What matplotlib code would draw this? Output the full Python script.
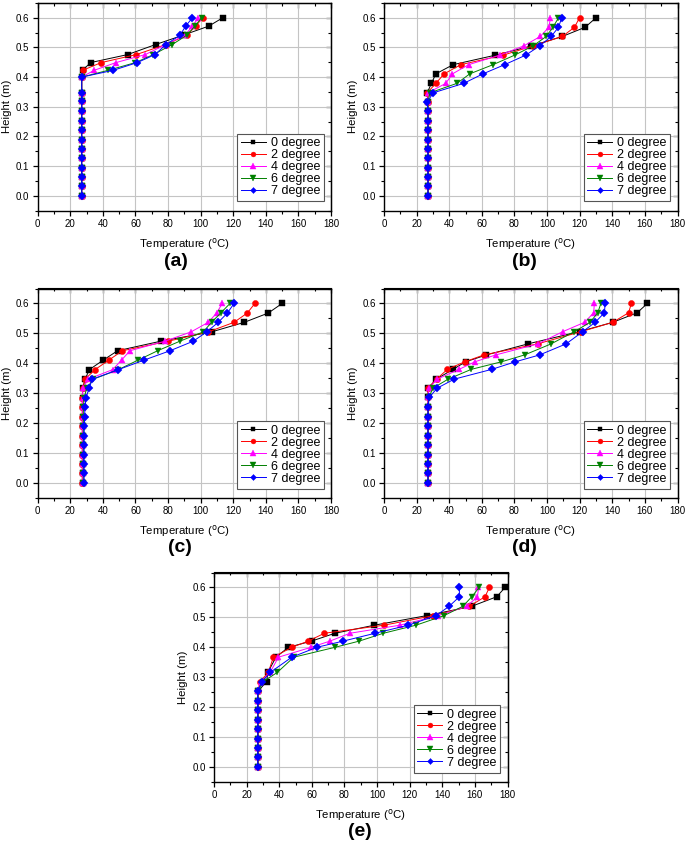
import matplotlib
matplotlib.use('Agg')
import matplotlib.pyplot as plt
from matplotlib.ticker import MultipleLocator, FormatStrFormatter

plt.rcParams['font.family'] = ['Liberation Sans', 'DejaVu Sans']

W, H = 685, 848
fig = plt.figure(figsize=(W / 100, H / 100), dpi=100)

series_labels = ['0 degree', '2 degree', '4 degree', '6 degree', '7 degree']
x_ticks = [0, 20, 40, 60, 80, 100, 120, 140, 160, 180]
y_ticks = [0.0, 0.1, 0.2, 0.3, 0.4, 0.5, 0.6]

# ---------------- panel (a) ----------------
h_a = [0.0, 0.032, 0.063, 0.095, 0.126, 0.158, 0.189, 0.221, 0.253, 0.284,
       0.318, 0.346, 0.400, 0.423, 0.449, 0.476, 0.510, 0.541, 0.572, 0.600]
a_0 = [27.0, 27.0, 27.1, 27.0, 26.9, 27.0, 27.0, 26.9, 27.0, 27.0,
       27.0, 27.0, 27.0, 27.5, 32.5, 55.2, 72.4, 89.0, 105.0, 113.5]
a_2 = [27.0, 27.0, 27.0, 27.0, 27.0, 27.0, 27.0, 27.0, 27.0, 27.0,
       27.0, 27.0, 27.0, 27.6, 39.0, 60.5, 78.7, 91.4, 97.0, 101.2]
a_4 = [27.0, 27.0, 27.0, 27.0, 27.0, 27.0, 27.0, 27.0, 27.0, 27.0,
       27.0, 27.0, 27.0, 34.7, 48.0, 66.0, 78.7, 90.4, 95.0, 98.5]
a_6 = [27.0, 27.0, 27.0, 27.0, 27.0, 27.0, 27.0, 27.0, 27.0, 27.0,
       27.0, 27.0, 27.0, 43.3, 60.0, 71.0, 82.6, 91.4, 96.5, 100.6]
a_7 = [27.0, 27.0, 27.0, 27.0, 27.0, 27.0, 27.0, 27.0, 27.0, 27.0,
       27.0, 27.0, 27.0, 46.4, 61.1, 72.0, 78.7, 87.3, 90.8, 94.9]

# ---------------- panel (b) ----------------
h_b = [0.0, 0.032, 0.063, 0.095, 0.126, 0.158, 0.189, 0.221, 0.253, 0.284,
       0.316, 0.347, 0.379, 0.411, 0.442, 0.474, 0.505, 0.537, 0.568, 0.600]
b_0 = [27.0, 27.0, 27.0, 27.0, 27.0, 27.0, 27.0, 27.0, 27.0, 27.0,
       27.0, 26.5, 29.1, 31.8, 42.4, 68.3, 90.3, 109.3, 123.3, 130.0]
b_2 = [27.0, 27.0, 27.0, 27.0, 27.0, 27.0, 27.0, 27.0, 27.0, 27.0,
       27.0, 26.5, 31.8, 36.9, 47.1, 73.0, 91.3, 109.3, 116.8, 119.9]
b_4 = [27.0, 27.0, 27.0, 27.0, 27.0, 27.0, 27.0, 27.0, 27.0, 27.0,
       27.0, 27.0, 37.9, 42.0, 51.9, 70.9, 85.6, 95.8, 101.1, 102.1]
b_6 = [27.0, 27.0, 27.0, 27.0, 27.0, 27.0, 27.0, 27.0, 27.0, 27.0,
       27.0, 28.1, 44.8, 52.6, 66.9, 80.1, 91.3, 99.5, 103.6, 107.0]
b_7 = [27.0, 27.0, 27.0, 27.0, 27.0, 27.0, 27.0, 27.0, 27.0, 27.0,
       26.5, 30.2, 48.9, 60.7, 74.0, 86.9, 95.4, 102.5, 107.0, 109.0]

# ---------------- panel (c) ----------------
h_c = [0.0, 0.032, 0.063, 0.095, 0.126, 0.158, 0.189, 0.221, 0.253, 0.284,
       0.316, 0.347, 0.379, 0.411, 0.442, 0.474, 0.505, 0.537, 0.568, 0.600]
c_0 = [27.5, 27.5, 27.5, 27.5, 27.5, 27.5, 27.5, 27.5, 27.5, 27.5,
       27.6, 29.1, 31.7, 40.3, 49.0, 75.6, 106.7, 126.8, 141.5, 150.0]
c_2 = [27.3, 27.3, 27.3, 27.3, 27.3, 27.3, 27.3, 27.3, 27.3, 27.3,
       27.6, 29.0, 35.2, 43.7, 52.0, 80.2, 104.7, 120.5, 128.6, 133.3]
c_4 = [27.5, 27.5, 27.5, 27.5, 27.5, 27.5, 27.5, 27.5, 27.5, 27.5,
       27.6, 31.0, 46.0, 51.5, 56.6, 78.1, 94.1, 104.7, 109.8, 113.3]
c_6 = [28.0, 28.0, 28.0, 28.0, 28.0, 28.0, 28.0, 28.0, 28.0, 28.5,
       30.0, 34.1, 49.5, 61.7, 73.6, 87.3, 101.6, 106.7, 112.3, 118.0]
c_7 = [28.5, 28.5, 28.5, 28.5, 28.5, 28.5, 28.6, 28.8, 29.0, 29.6,
       31.5, 33.5, 49.5, 65.4, 81.2, 95.5, 103.7, 110.8, 116.4, 120.5]

# ---------------- panel (d) ----------------
h_d = [0.0, 0.032, 0.063, 0.095, 0.126, 0.158, 0.189, 0.221, 0.253, 0.286,
       0.317, 0.347, 0.380, 0.405, 0.428, 0.465, 0.506, 0.537, 0.569, 0.600]
d_0 = [27.0, 27.0, 27.0, 27.0, 27.0, 27.0, 27.0, 27.0, 27.0, 27.0,
       27.1, 32.0, 42.4, 50.0, 62.8, 88.3, 119.9, 140.3, 155.3, 161.5]
d_2 = [27.0, 27.0, 27.0, 27.0, 27.0, 27.0, 27.0, 27.0, 27.0, 27.0,
       27.1, 32.2, 38.9, 49.5, 61.2, 94.2, 121.0, 140.3, 150.0, 151.7]
d_4 = [27.0, 27.0, 27.0, 27.0, 27.0, 27.0, 27.0, 27.0, 27.0, 27.0,
       27.5, 32.6, 46.1, 55.7, 68.5, 94.4, 109.7, 123.0, 128.6, 129.0]
d_6 = [27.0, 27.0, 27.0, 27.0, 27.0, 27.0, 27.0, 27.0, 27.0, 27.5,
       30.0, 39.3, 53.6, 72.0, 86.2, 102.5, 116.8, 126.4, 131.1, 133.0]
d_7 = [27.0, 27.0, 27.0, 27.0, 27.0, 27.0, 27.0, 27.0, 27.1, 27.7,
       32.6, 43.0, 66.2, 80.5, 95.4, 111.7, 121.9, 129.5, 135.2, 135.6]

# ---------------- panel (e) ----------------
h_e = [0.0, 0.032, 0.063, 0.095, 0.126, 0.158, 0.190, 0.220, 0.254, 0.285,
       0.316, 0.367, 0.400, 0.421, 0.447, 0.474, 0.506, 0.537, 0.569, 0.600]
e_0 = [27.0, 27.0, 27.0, 27.0, 27.0, 27.0, 27.0, 27.0, 27.0, 32.3,
       33.0, 38.0, 45.6, 59.9, 74.2, 98.4, 130.5, 158.0, 173.4, 178.5]
e_2 = [27.0, 27.0, 27.0, 27.0, 27.0, 27.0, 27.0, 27.0, 27.0, 28.2,
       33.3, 36.4, 47.7, 57.9, 67.7, 104.3, 134.6, 156.6, 166.2, 168.9]
e_4 = [27.0, 27.0, 27.0, 27.0, 27.0, 27.0, 27.0, 27.0, 27.0, 29.0,
       34.4, 39.5, 59.5, 71.2, 83.4, 114.1, 137.6, 155.0, 161.6, 162.2]
e_6 = [27.0, 27.0, 27.0, 27.0, 27.0, 27.0, 27.0, 27.0, 27.0, 30.0,
       38.8, 48.9, 74.2, 89.2, 103.9, 123.9, 141.1, 152.6, 158.1, 162.6]
e_7 = [26.8, 26.8, 26.8, 26.8, 26.8, 26.8, 26.8, 26.8, 26.8, 29.2,
       34.4, 47.7, 63.0, 79.4, 98.8, 119.2, 136.2, 144.2, 150.5, 150.5]

# ---------------- styling ----------------
colors = ['#000000', '#FF0000', '#FF00FF', '#008000', '#0000FF']
markers = ['s', 'o', '^', 'v', 'D']
msizes = [3.8, 4.4, 4.6, 4.6, 3.8]

panels = [
    ('(a)', h_a, [a_0, a_2, a_4, a_6, a_7], (37.7, 3.0, 331.0, 210.5), (176, 262)),
    ('(b)', h_b, [b_0, b_2, b_4, b_6, b_7], (384.0, 3.0, 677.5, 210.5), (524, 262)),
    ('(c)', h_c, [c_0, c_2, c_4, c_6, c_7], (37.7, 288.5, 331.0, 498.0), (180, 548)),
    ('(d)', h_d, [d_0, d_2, d_4, d_6, d_7], (384.0, 288.5, 677.5, 498.0), (524, 548)),
    ('(e)', h_e, [e_0, e_2, e_4, e_6, e_7], (214.0, 572.5, 507.5, 782.0), (360, 832)),
]

for name, hs, temps, (l, t, r, b), (lx, ly) in panels:
    ax = fig.add_axes([l / W, 1 - b / H, (r - l) / W, (b - t) / H])
    for temp, c, m, ms, lab in zip(temps, colors, markers, msizes, series_labels):
        ax.plot(temp, hs, color=c, marker=m, markersize=ms, lw=0.7,
                markeredgewidth=0.3, markeredgecolor=c, label=lab)
    ax.set_xlim(0, 180)
    ax.set_ylim(-0.05, 0.65)
    ax.set_xticks(x_ticks)
    ax.set_yticks(y_ticks)
    ax.xaxis.set_minor_locator(MultipleLocator(10))
    ax.yaxis.set_minor_locator(MultipleLocator(0.05))
    ax.yaxis.set_major_formatter(FormatStrFormatter('%.1f'))
    ax.tick_params(which='major', direction='out', length=3.5, width=0.9,
                   labelsize=7, pad=2.5)
    ax.tick_params(which='minor', direction='out', length=2.0, width=0.8)
    ax.grid(True, which='major', color='#c4c4c4', lw=0.8)
    ax.set_axisbelow(True)
    for s in ax.spines.values():
        s.set_linewidth(1.0)
    # mirrored ticks on top / right, pointing inward
    secx = ax.secondary_xaxis('top')
    secx.set_xticks(x_ticks)
    secx.xaxis.set_minor_locator(MultipleLocator(10))
    secx.tick_params(which='major', direction='in', length=3.5, width=0.9, labeltop=False)
    secx.tick_params(which='minor', direction='in', length=2.0, width=0.8)
    secy = ax.secondary_yaxis('right')
    secy.set_yticks(y_ticks)
    secy.yaxis.set_minor_locator(MultipleLocator(0.05))
    secy.tick_params(which='major', direction='in', length=3.5, width=0.9, labelright=False)
    secy.tick_params(which='minor', direction='in', length=2.0, width=0.8)

    ax.set_xlabel('Temperature ($^{\\rm o}$C)', fontsize=8.2, labelpad=5)
    ax.set_ylabel('Height (m)', fontsize=8.2, labelpad=3)

    leg = ax.legend(loc='lower right', bbox_to_anchor=(0.976, 0.045),
                    borderaxespad=0, fontsize=9, handlelength=2.0,
                    labelspacing=0.0, borderpad=0.3, handletextpad=0.4,
                    fancybox=False, framealpha=1, markerscale=0.8)
    leg.get_frame().set_edgecolor('#555555')
    leg.get_frame().set_linewidth(0.8)

    fig.text(lx / W, 1 - ly / H, name, ha='center', va='center',
             fontsize=14, fontweight='bold')

fig.savefig('out.png', dpi=100)
